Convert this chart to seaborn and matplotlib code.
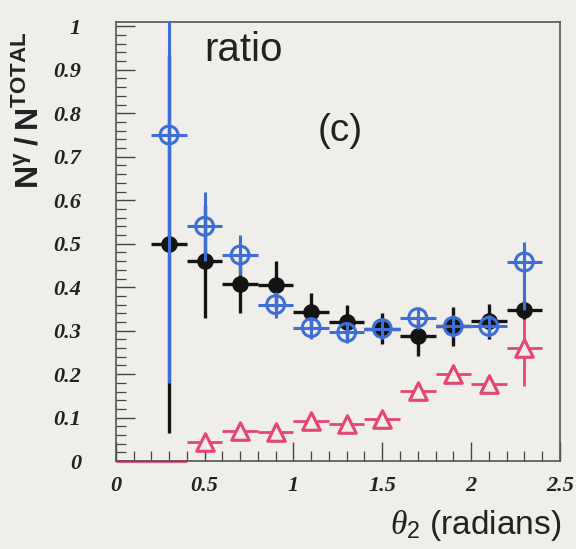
import numpy as np
import matplotlib
matplotlib.use("Agg")
import matplotlib.pyplot as plt
import seaborn as sns
from matplotlib.ticker import MultipleLocator

# ---- data ----
x_blue = [0.3, 0.5, 0.7, 0.9, 1.1, 1.3, 1.5, 1.7, 1.9, 2.1, 2.3]
y_blue = [0.75, 0.54, 0.474, 0.36, 0.307, 0.296, 0.305, 0.33, 0.31, 0.31, 0.458]
e_blue_lo = [0.57, 0.08, 0.045, 0.03, 0.025, 0.025, 0.025, 0.025, 0.025, 0.025, 0.11]
e_blue_hi = [0.40, 0.08, 0.045, 0.03, 0.025, 0.025, 0.025, 0.025, 0.025, 0.025, 0.045]

x_black = [0.3, 0.5, 0.7, 0.9, 1.1, 1.3, 1.5, 1.7, 1.9, 2.1, 2.3]
y_black = [0.50, 0.46, 0.408, 0.405, 0.344, 0.32, 0.305, 0.287, 0.31, 0.322, 0.348]
e_black = [0.435, 0.13, 0.068, 0.055, 0.042, 0.04, 0.035, 0.045, 0.045, 0.04, 0.02]

x_red = [0.1, 0.3, 0.5, 0.7, 0.9, 1.1, 1.3, 1.5, 1.7, 1.9, 2.1, 2.3]
y_red = [0.0, 0.0, 0.043, 0.07, 0.066, 0.092, 0.086, 0.098, 0.162, 0.2, 0.178, 0.26]
e_red = [0.0, 0.0, 0.0, 0.0, 0.0, 0.0, 0.0, 0.0, 0.0, 0.0, 0.0, 0.087]
bin_half = 0.1

x_ticks = [0, 0.5, 1, 1.5, 2, 2.5]
x_ticklabels = ["0", "0.5", "1", "1.5", "2", "2.5"]
y_ticks = [0, 0.1, 0.2, 0.3, 0.4, 0.5, 0.6, 0.7, 0.8, 0.9, 1]
y_ticklabels = ["0", "0.1", "0.2", "0.3", "0.4", "0.5", "0.6", "0.7", "0.8", "0.9", "1"]

BLUE = "#3d6fd6"
BLACK = "#141414"
RED = "#e4466f"
BG = "#efeeea"

sns.set_theme(style="ticks")
plt.rcParams["font.family"] = ["Liberation Sans", "DejaVu Sans"]
plt.rcParams["mathtext.fontset"] = "custom"
plt.rcParams["mathtext.rm"] = "Liberation Sans"
plt.rcParams["mathtext.bf"] = "Liberation Sans:bold"
plt.rcParams["mathtext.it"] = "Liberation Serif:italic"

fig = plt.figure(figsize=(5.76, 5.49), dpi=100, facecolor=BG)
ax = fig.add_axes([0.201, 0.160, 0.771, 0.800])
ax.set_facecolor(BG)

# red: first (empty) bins as a plain line at zero
red_df_x = np.array(x_red)
red_df_y = np.array(y_red)
empty = red_df_y == 0
ax.errorbar(red_df_x[empty], red_df_y[empty], xerr=bin_half, fmt="none",
            ecolor=RED, elinewidth=2.0, zorder=2, clip_on=False)
ax.errorbar(red_df_x[~empty], red_df_y[~empty], xerr=bin_half,
            yerr=np.array(e_red)[~empty], fmt="none", ecolor=RED,
            elinewidth=2.0, zorder=2)
sns.scatterplot(x=red_df_x[~empty], y=red_df_y[~empty], ax=ax, marker="^",
                s=160, facecolor=BG, edgecolor=RED, linewidth=2.2, zorder=3)

# black
ax.errorbar(x_black, y_black, xerr=bin_half, yerr=e_black, fmt="none",
            ecolor=BLACK, elinewidth=2.4, zorder=4)
sns.scatterplot(x=x_black, y=y_black, ax=ax, marker="o", s=120,
                color=BLACK, edgecolor=BLACK, linewidth=1, zorder=5)

# blue
ax.errorbar(x_blue, y_blue, xerr=bin_half, yerr=[e_blue_lo, e_blue_hi],
            fmt="none", ecolor=BLUE, elinewidth=2.2, zorder=6)
sns.scatterplot(x=x_blue, y=y_blue, ax=ax, marker="o", s=165,
                facecolor="none", edgecolor=BLUE, linewidth=2.2, zorder=7)

ax.set_xlim(0, 2.5)
ax.set_ylim(0, 1.01)

ax.set_xticks(x_ticks)
ax.set_xticklabels(x_ticklabels)
ax.set_yticks(y_ticks)
ax.set_yticklabels(y_ticklabels)
ax.xaxis.set_minor_locator(MultipleLocator(0.1))
ax.yaxis.set_minor_locator(MultipleLocator(0.02))
ax.tick_params(axis="both", which="major", direction="in", length=14,
               width=1.0, color="#444444")
ax.tick_params(axis="y", which="major", pad=25)
ax.tick_params(axis="x", which="major", pad=11)
ax.tick_params(axis="both", which="minor", direction="in", length=7,
               width=0.9, color="#444444")
ax.tick_params(top=False, right=False, which="both")
for lab in ax.get_xticklabels() + ax.get_yticklabels():
    lab.set_fontfamily(["Liberation Serif", "DejaVu Serif"])
    lab.set_fontstyle("italic")
    lab.set_fontweight("bold")
    lab.set_fontsize(16)
    lab.set_color("#222222")

for sp in ax.spines.values():
    sp.set_color("#555555")
    sp.set_linewidth(1.2)

ax.text(0.2, 0.936, "ratio", transform=ax.transAxes, fontsize=29,
        color="#222222", va="center", ha="left")
ax.text(0.455, 0.752, "(c)", transform=ax.transAxes, fontsize=28,
        color="#222222", va="center", ha="left")

fig.text(0.052, 0.80, r"$\mathbf{N^{\gamma}\;/\;N^{TOTAL}}$", rotation=90,
         fontsize=23, color="#222222", ha="center", va="center")
fig.text(0.975, 0.042, r"$\mathit{\theta}_2$ (radians)", fontsize=24,
         color="#222222", ha="right", va="center")

fig.savefig("out.png", dpi=100, facecolor=BG)
